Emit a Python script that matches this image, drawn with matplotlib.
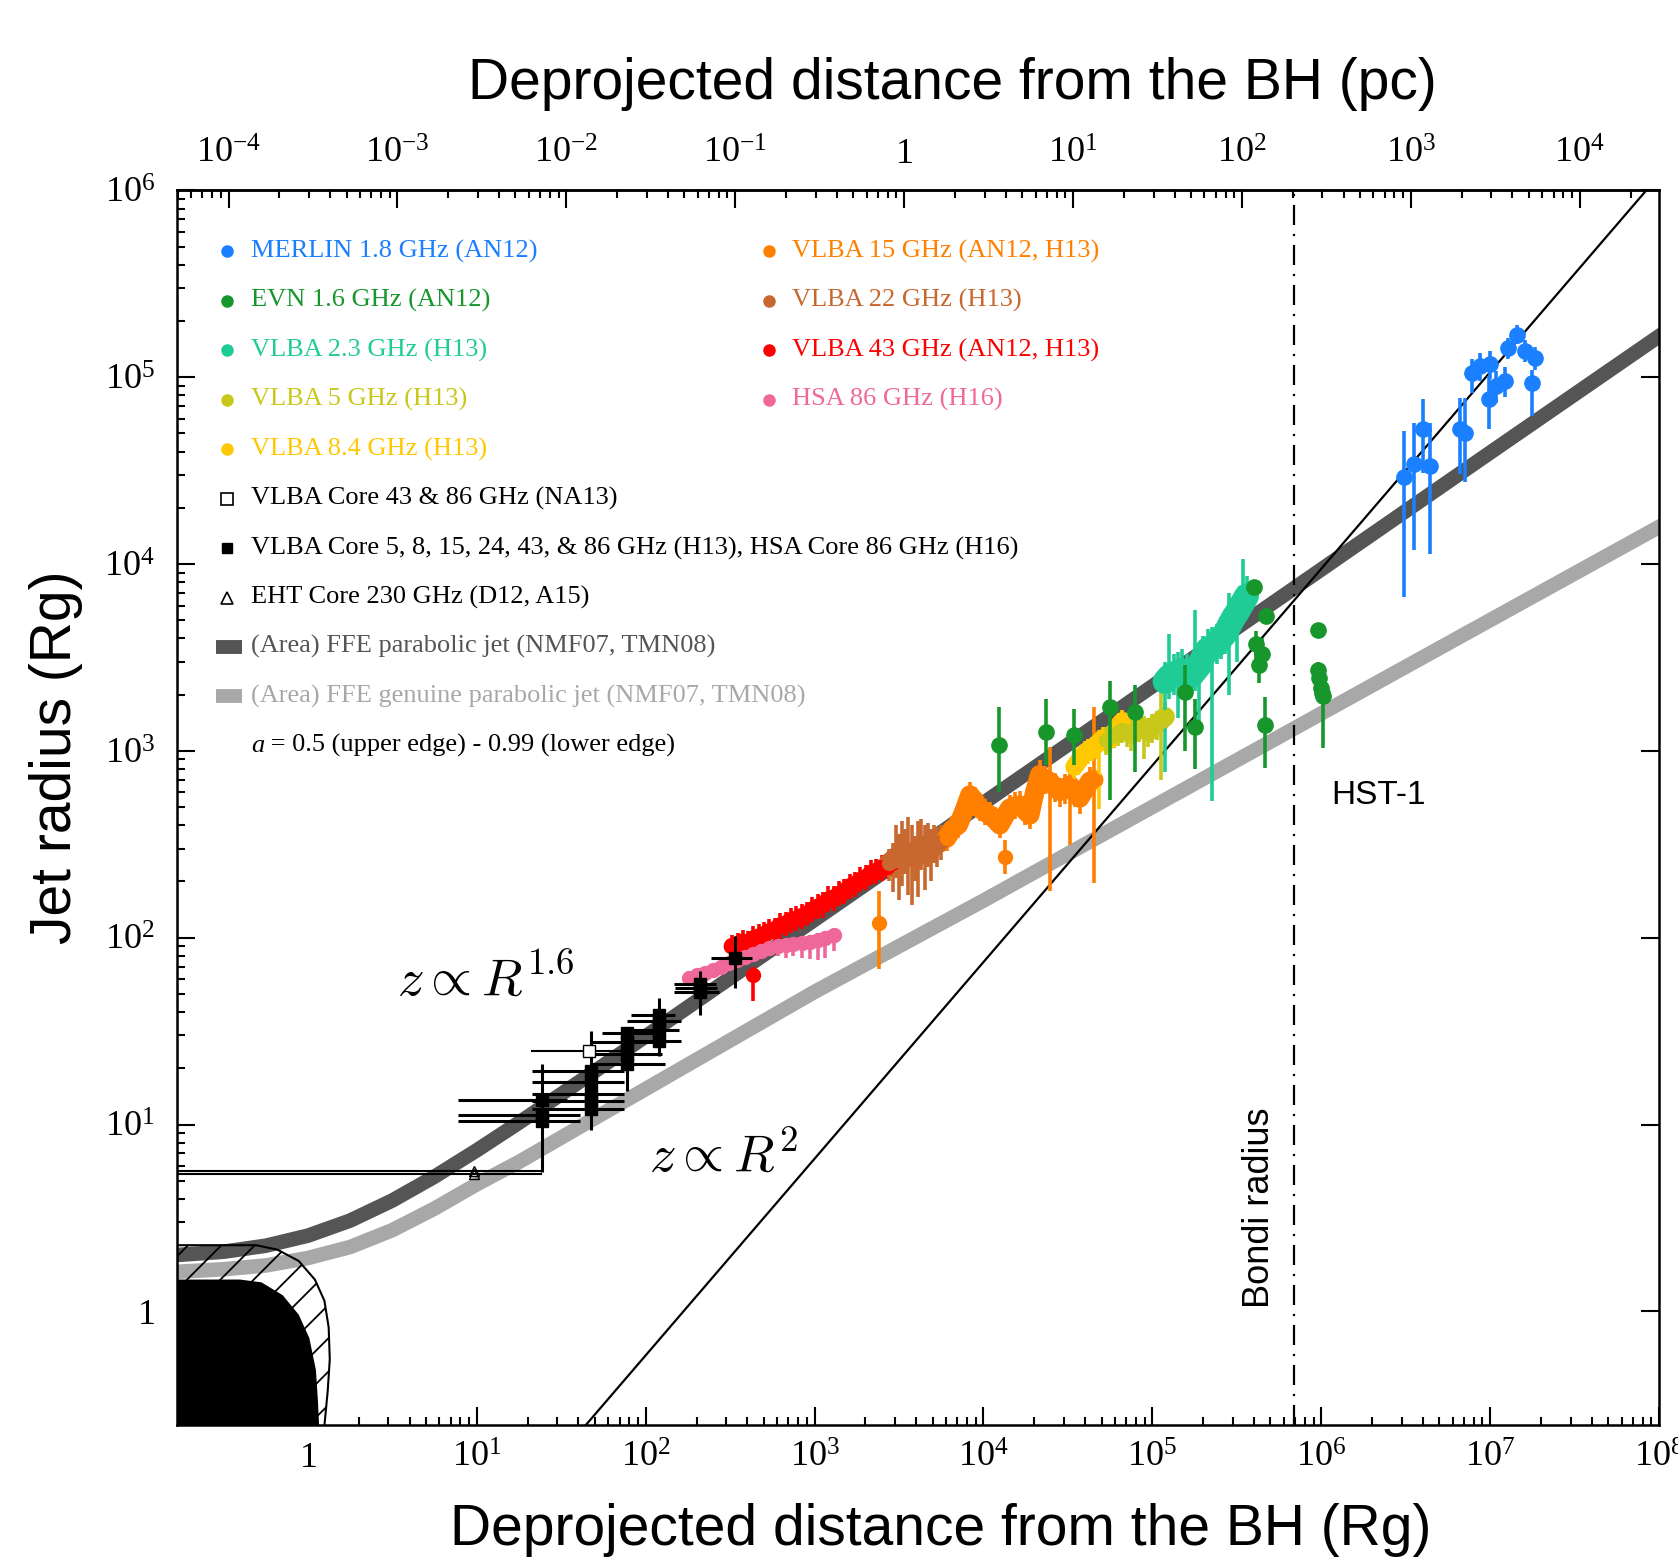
import numpy as np
import matplotlib
matplotlib.use('Agg')
import matplotlib.pyplot as plt
from matplotlib.ticker import LogLocator, FuncFormatter, NullFormatter

plt.rcParams['font.family'] = 'Liberation Serif'
plt.rcParams['mathtext.fontset'] = 'cm'
plt.rcParams['hatch.linewidth'] = 1.3

# --- conversion Rg -> pc (M87) ---
RG_TO_PC = 2.95e-4
BONDI_RG = 6.9e5

# --- BH horizon / ergosphere outlines ---
bh_x = [0.1, 0.396, 0.531, 0.71, 0.883, 1.02, 1.116, 1.148, 1.165, 1.165, 0.1]
bh_y = [1.48, 1.48, 1.43, 1.22, 0.96, 0.72, 0.485, 0.327, 0.245, 0.2, 0.2]
ergo_x = [0.1, 0.493, 0.66, 0.883, 1.10, 1.253, 1.328, 1.348, 1.31, 1.253, 1.253, 0.1]
ergo_y = [2.26, 2.26, 2.14, 1.86, 1.48, 1.14, 0.82, 0.553, 0.373, 0.245, 0.2, 0.2]

# --- FFE models (upper: parabolic, lower: genuine parabolic) ---
band_x = [0.151, 0.316, 0.562, 1.0, 1.78, 3.16, 5.62, 10, 17.8, 31.6, 56.2, 100, 316, 1000,
          1e4, 1e5, 1e6, 1e7, 1.05e8]
ffe_y = [1.99, 2.085, 2.245, 2.542, 3.062, 3.92, 5.26, 7.28, 10.24, 14.54, 20.74, 29.66,
         60.8, 124.8, 526, 2218, 9354, 3.95e4, 1.71e5]
gen_y = [1.62, 1.68, 1.76, 1.93, 2.21, 2.72, 3.55, 4.79, 6.31, 8.51, 11.5, 15.5,
         28.2, 51.3, 158, 501, 1585, 5012, 1.62e4]

# conical reference line
cone_x = [44, 8.4e7]
cone_y = [0.245, 1.0e6]

# --- MERLIN 1.8 GHz ---
x_merlin = [3.07e6, 3.52e6, 3.98e6, 4.42e6, 6.65e6, 7.12e6, 7.8e6, 8.73e6, 1.0e7, 9.78e6,
            1.09e7, 1.23e7, 1.28e7, 1.44e7, 1.61e7, 1.77e7, 1.85e7]
y_merlin = [2.91e4, 3.43e4, 5.27e4, 3.36e4, 5.27e4, 5.06e4, 1.06e5, 1.15e5, 1.17e5, 7.62e4,
            9.0e4, 9.55e4, 1.44e5, 1.69e5, 1.38e5, 9.36e4, 1.27e5]
lo_merlin = [6650, 1.19e4, 3.06e4, 1.13e4, 3.05e4, 2.74e4, 8.27e4, 9.5e4, 9.8e4, 5.27e4,
             7.3e4, 7.8e4, 1.25e5, 1.5e5, 1.2e5, 6.2e4, 1.1e5]
hi_merlin = [5.17e4, 5.72e4, 7.69e4, 5.7e4, 7.7e4, 7.7e4, 1.25e5, 1.35e5, 1.38e5, 1.02e5,
             1.08e5, 1.14e5, 1.62e5, 1.9e5, 1.58e5, 1.1e5, 1.46e5]

# --- EVN 1.6 GHz ---
x_evn = [1.23e4, 2.34e4, 3.42e4, 5.65e4, 7.92e4, 1.57e5, 1.79e5, 4.0e5, 4.74e5, 4.11e5,
         4.3e5, 4.45e5, 4.62e5, 9.6e5, 9.6e5, 9.75e5, 1.0e6, 1.01e6, 1.03e6]
y_evn = [1074, 1264, 1213, 1719, 1617, 2070, 1350, 7530, 5300, 3727,
         2866, 3300, 1378, 4440, 2718, 2450, 2173, 2050, 1955]
lo_evn = [606, 843, 836, 546, 769, 1000, 800, 7000, 4800, 3000,
          2300, 2700, 810, 4100, 2400, 2200, 1900, 1800, 1040]
hi_evn = [1725, 1905, 1679, 2352, 2254, 2866, 1900, 8100, 5800, 4400,
          3400, 4000, 1931, 4800, 3000, 2700, 2500, 2300, 2300]

# --- VLBA 2.3 GHz ---
x_23 = [1.19e5, 1.26e5, 1.34e5, 1.42e5, 1.5e5, 1.6e5, 1.69e5, 1.8e5, 1.9e5, 2.0e5, 2.13e5,
        2.26e5, 2.4e5, 2.55e5, 2.7e5, 2.86e5, 3.03e5, 3.17e5, 3.31e5, 3.46e5, 3.61e5]
y_23 = [2352, 2500, 2578, 2640, 2683, 2600, 2512, 2700, 2866, 3200, 3491,
        3600, 3727, 4000, 4252, 4700, 5180, 5500, 5907, 6300, 6738]
lo_23 = [770, 1900, 2000, 1500, 2100, 2000, 1950, 2100, 1300, 2500, 2700,
         540, 2900, 3100, 3300, 2000, 4000, 3000, 4600, 4900, 5200]
hi_23 = [3000, 4200, 3300, 3400, 3500, 3300, 3200, 5700, 3700, 4100, 4500,
         4600, 4800, 5200, 5500, 7000, 6700, 7100, 7600, 1.07e4, 8600]

# --- VLBA 5 GHz ---
x_5 = [5.34e4, 5.62e4, 5.92e4, 6.25e4, 6.65e4, 7.05e4, 7.47e4, 7.9e4, 8.39e4, 8.9e4,
       9.43e4, 1.0e5, 1.06e5, 1.12e5, 1.19e5]
y_5 = [1141, 1180, 1219, 1260, 1301, 1270, 1234, 1290, 1336, 1300, 1267, 1330, 1389, 1450, 1523]
lo_5 = [950, 1000, 1030, 1060, 1100, 1050, 1000, 1080, 1120, 900, 1050, 1100, 1150, 700, 1300]
hi_5 = [1350, 1400, 1450, 1500, 1540, 1500, 1460, 1520, 1580, 1540, 1500, 1570, 1640, 2600, 1800]

# --- VLBA 8.4 GHz ---
x_84 = [3.45e4, 3.62e4, 3.82e4, 4.0e4, 4.17e4, 4.4e4, 4.62e4, 4.85e4, 5.11e4, 5.35e4,
        5.58e4, 5.85e4, 6.09e4, 6.35e4, 6.65e4]
y_84 = [821, 870, 936, 980, 1000, 1030, 1069, 1120, 1172, 1150, 1141, 1220, 1301, 1380, 1446]
lo_84 = [700, 740, 800, 830, 850, 880, 910, 491, 1000, 980, 970, 1040, 1100, 1170, 1230]
hi_84 = [950, 1000, 1080, 1130, 1160, 1190, 1230, 1290, 1350, 1320, 1310, 1400, 1500, 1590, 1660]

# --- VLBA 15 GHz (ribbon + two isolated points) ---
x_15 = [6050, 6520, 7100, 7700, 8310, 8900, 9510, 1.02e4, 1.09e4, 1.17e4, 1.25e4, 1.34e4,
        1.43e4, 1.53e4, 1.64e4, 1.76e4, 1.88e4, 2.01e4, 2.15e4, 2.3e4, 2.47e4, 2.65e4,
        2.83e4, 3.03e4, 3.24e4, 3.47e4, 3.71e4, 3.98e4, 4.26e4, 4.5e4]
y_15 = [341, 380, 402, 480, 581, 540, 493, 470, 454, 430, 402, 450,
        493, 505, 513, 480, 454, 600, 745, 700, 687, 640,
        607, 630, 658, 600, 559, 620, 687, 700]
lo_15 = [290, 320, 340, 400, 500, 450, 420, 400, 390, 370, 340, 380,
         420, 430, 440, 400, 380, 500, 620, 590, 178, 530,
         500, 520, 314, 500, 460, 520, 580, 197]
hi_15 = [400, 450, 470, 560, 680, 640, 580, 550, 530, 500, 470, 530,
         580, 600, 610, 570, 540, 720, 890, 830, 1054, 760,
         720, 750, 780, 720, 660, 740, 820, 1714]
x_15_iso = [1.34e4, 2403]
y_15_iso = [271, 119.7]
lo_15_iso = [220, 67.7]
hi_15_iso = [333, 178]

# --- VLBA 22 GHz ---
x_22 = [2767, 2900, 3020, 3150, 3297, 3450, 3598, 3760, 3927, 4100, 4286, 4480, 4677,
        4890, 5105, 5330, 5571]
y_22 = [250, 258, 268, 262, 275, 282, 286, 278, 268, 290, 298, 292, 306, 300, 314, 320, 327]
lo_22 = [200, 175, 210, 160, 190, 220, 170, 150, 200, 165, 230, 180, 240, 200, 250, 240, 260]
hi_22 = [300, 320, 400, 360, 420, 380, 440, 400, 350, 420, 430, 400, 410, 380, 400, 390, 400]

# --- VLBA 43 GHz (ribbon + one isolated point) ---
x_43 = [324, 350, 375, 405, 434, 468, 502, 540, 581, 625, 673, 724, 778, 837, 900, 968,
        1042, 1120, 1205, 1296, 1394, 1500, 1614, 1736, 1866, 2008, 2159, 2323, 2500,
        2690, 2891]
y_43 = [90, 92, 95, 93, 99, 101, 104, 108, 110, 116, 118, 124, 126, 130, 133, 141,
        146, 150, 160, 162, 171, 176, 188, 192, 203, 208, 222, 226, 238, 240, 252]
lo_43 = [76, 80, 82, 80, 84, 88, 90, 93, 95, 99, 102, 106, 108, 112, 115, 122,
         126, 128, 138, 139, 147, 151, 162, 165, 175, 179, 191, 195, 200, 205, 215]
hi_43 = [104, 106, 110, 108, 115, 118, 121, 126, 128, 135, 138, 145, 147, 152, 156, 165,
         171, 176, 188, 190, 200, 206, 220, 225, 238, 244, 260, 265, 278, 282, 295]
x_43_iso = [434]
y_43_iso = [63.5]
lo_43_iso = [45.7]
hi_43_iso = [70]

# --- HSA 86 GHz ---
x_86 = [181, 200, 225, 250, 280, 312, 349, 390, 434, 485, 541, 605, 673, 750, 837, 935,
        1042, 1160, 1297]
y_86 = [61, 63, 65, 67, 70, 73, 76, 79, 82, 85, 88, 90, 91, 92, 94, 95, 97, 100, 104]
lo_86 = [56, 58, 60, 62, 64, 67, 70, 72, 75, 77, 80, 80, 78, 80, 78, 77, 76, 78, 85]
hi_86 = [66, 68, 70, 72, 76, 79, 82, 85, 88, 92, 95, 97, 98, 100, 102, 103, 106, 108, 112]

# --- cores (H13, H16) ---
core_x = [24.4, 24.4, 24.4, 47.3, 47.3, 47.3, 47.3, 47.3, 78, 78, 78, 78,
          120, 120, 120, 120, 211, 211, 211, 337]
core_y = [10.5, 11.2, 13.5, 12.1, 13.4, 14.6, 16.8, 19.4, 21.0, 24.0, 27.5, 31.0,
          28.0, 32.0, 36.0, 38.8, 51.5, 54.0, 56.3, 77.4]
core_xlo = [7.7, 7.7, 7.7, 21.3, 21.3, 21.3, 21.3, 21.3, 48, 48, 48, 55,
            78, 80, 78, 82, 147, 150, 147, 243]
core_xhi = [41, 41, 34, 74, 74, 74, 74, 74, 130, 125, 110, 130,
            162, 158, 162, 150, 272, 265, 260, 427]
core_ylo = [5.6, 11.2, 13.5, 12.1, 13.4, 9.3, 16.8, 19.4, 15.2, 24.0, 27.5, 31.0,
            28.0, 23.3, 36.0, 38.8, 51.5, 38.8, 56.3, 53.9]
core_yhi = [21.0, 11.2, 13.5, 12.1, 13.4, 31.7, 16.8, 19.4, 31.7, 24.0, 27.5, 31.0,
            28.0, 47.7, 36.0, 38.8, 51.5, 66.3, 56.3, 101.7]

# NA13 core
na_x = [46.2]
na_y = [24.8]
na_xlo = [21.0]
na_xhi = [74.0]

# EHT cores
eht_x = [9.6, 9.6]
eht_y = [5.66, 5.45]
eht_xlo = [0.1, 0.1]
eht_xhi = [24.4, 24.4]

c_merlin = '#1a80ff'
c_evn = '#17962b'
c_23 = '#1fcc96'
c_5 = '#c8c81a'
c_84 = '#ffc800'
c_15 = '#ff8000'
c_22 = '#c8682f'
c_43 = '#ff0000'
c_86 = '#f0689a'
c_ffe = '#555555'
c_gen = '#a8a8a8'

fig = plt.figure(figsize=(16.78, 15.62), dpi=100)
ax = fig.add_axes([0.1055, 0.0874, 0.8832, 0.7907])
ax.set_xscale('log')
ax.set_yscale('log')
ax.set_xlim(0.168, 1e8)
ax.set_ylim(0.245, 1e6)

# FFE bands
ax.plot(band_x, gen_y, color=c_gen, lw=10.5, solid_capstyle='butt',
        solid_joinstyle='round', zorder=2)
ax.plot(band_x, ffe_y, color=c_ffe, lw=10.5, solid_capstyle='butt',
        solid_joinstyle='round', zorder=2.1)

# BH + ergosphere (hatch drawn over the bands)
ax.fill(ergo_x, ergo_y, facecolor='none', edgecolor='black', hatch='/', lw=1.5, zorder=2.2)
ax.fill(bh_x, bh_y, color='black', lw=0, zorder=2.3)

ax.plot(cone_x, cone_y, color='black', lw=1.6, zorder=2.4)
ax.axvline(BONDI_RG, color='black', lw=1.6, linestyle=(0, (9, 4, 1, 4)), zorder=2.4)


def jet_points(x, y, lo, hi, color, ms=10, z=3):
    x = np.asarray(x, float)
    y = np.asarray(y, float)
    err = [y - np.asarray(lo, float), np.asarray(hi, float) - y]
    ax.errorbar(x, y, yerr=err, fmt='o', ms=ms, color=color, mec=color,
                elinewidth=2.6, capsize=0, zorder=z)


def jet_ribbon(x, y, lo, hi, color, lw, ms=10, z=3):
    ax.plot(x, y, color=color, lw=lw, solid_joinstyle='round',
            solid_capstyle='round', zorder=z)
    jet_points(x, y, lo, hi, color, ms=ms, z=z)


jet_points(x_merlin, y_merlin, lo_merlin, hi_merlin, c_merlin, ms=11)
jet_ribbon(x_43, y_43, lo_43, hi_43, c_43, lw=12)
jet_points(x_43_iso, y_43_iso, lo_43_iso, hi_43_iso, c_43)
jet_ribbon(x_86, y_86, lo_86, hi_86, c_86, lw=8, z=3.1)
jet_ribbon(x_22, y_22, lo_22, hi_22, c_22, lw=15)
jet_ribbon(x_15, y_15, lo_15, hi_15, c_15, lw=14)
jet_points(x_15_iso, y_15_iso, lo_15_iso, hi_15_iso, c_15)
jet_ribbon(x_84, y_84, lo_84, hi_84, c_84, lw=13)
jet_ribbon(x_5, y_5, lo_5, hi_5, c_5, lw=14)
jet_ribbon(x_23, y_23, lo_23, hi_23, c_23, lw=18)
jet_points(x_evn, y_evn, lo_evn, hi_evn, c_evn, ms=11, z=3.2)

cx = np.array(core_x)
cy = np.array(core_y)
ax.errorbar(cx, cy, xerr=[cx - np.array(core_xlo), np.array(core_xhi) - cx],
            yerr=[cy - np.array(core_ylo), np.array(core_yhi) - cy],
            fmt='s', ms=9, color='black', elinewidth=2.2, capsize=0, zorder=4)
nx = np.array(na_x)
ax.errorbar(nx, na_y, xerr=[nx - np.array(na_xlo), np.array(na_xhi) - nx],
            fmt='s', ms=8, mfc='white', mec='black', color='black', elinewidth=1.5,
            capsize=0, zorder=4)
ex = np.array(eht_x)
ax.errorbar(ex, eht_y, xerr=[ex - np.array(eht_xlo), np.array(eht_xhi) - ex],
            fmt='^', ms=7, mfc='none', mec='black', color='black', elinewidth=1.5,
            capsize=0, zorder=4)

# annotations
ax.text(3.38, 59, r'$z \propto R^{1.6}$', fontsize=38, va='center', ha='left', zorder=5)
ax.text(104, 6.74, r'$z \propto R^{2}$', fontsize=38, va='center', ha='left', zorder=5)
ax.text(1.14e6, 575, 'HST-1', family='Liberation Sans', fontsize=24, va='center', ha='left')
ax.text(4.3e5, 3.58, 'Bondi radius', family='Liberation Sans', fontsize=26, rotation=90,
        va='center', ha='center')


def log_fmt(v, pos):
    e = int(round(np.log10(v)))
    if e == 0:
        return r'$\mathdefault{1}$'
    return r'$\mathdefault{10^{%d}}$' % e


for axis in (ax.xaxis, ax.yaxis):
    axis.set_major_locator(LogLocator(base=10, numticks=30))
    axis.set_minor_locator(LogLocator(base=10, subs=np.arange(2, 10), numticks=300))
    axis.set_major_formatter(FuncFormatter(log_fmt))
    axis.set_minor_formatter(NullFormatter())

ax.tick_params(which='both', direction='in', width=1.5, labelsize=26)
ax.tick_params(which='major', length=13)
ax.tick_params(which='minor', length=6)
ax.tick_params(axis='x', top=False, bottom=True, pad=12)
ax.tick_params(axis='y', left=True, right=True, pad=16)
for s in ax.spines.values():
    s.set_linewidth(1.8)

sec = ax.secondary_xaxis('top', functions=(lambda v: np.asarray(v) * RG_TO_PC,
                                           lambda v: np.asarray(v) / RG_TO_PC))
sec.xaxis.set_major_locator(LogLocator(base=10, numticks=30))
sec.xaxis.set_minor_locator(LogLocator(base=10, subs=np.arange(2, 10), numticks=300))
sec.xaxis.set_major_formatter(FuncFormatter(log_fmt))
sec.xaxis.set_minor_formatter(NullFormatter())
sec.tick_params(which='both', direction='in', width=1.5, labelsize=26, pad=14)
sec.tick_params(which='major', length=13)
sec.tick_params(which='minor', length=6)
sec.spines['top'].set_linewidth(1.8)

# axis titles
fig.text(0.5606, 0.0205, 'Deprojected distance from the BH (Rg)', family='Liberation Sans',
         fontsize=41, ha='center', va='center')
fig.text(0.5676, 0.9465, 'Deprojected distance from the BH (pc)', family='Liberation Sans',
         fontsize=41, ha='center', va='center')
fig.text(0.0334, 0.515, 'Jet radius (Rg)', family='Liberation Sans', fontsize=41,
         rotation=90, ha='center', va='center')

# legend (two columns)
leg1_labels = ['MERLIN 1.8 GHz (AN12)', 'EVN 1.6 GHz (AN12)', 'VLBA 2.3 GHz (H13)',
               'VLBA 5 GHz (H13)', 'VLBA 8.4 GHz (H13)', 'VLBA Core 43 & 86 GHz (NA13)',
               'VLBA Core 5, 8, 15, 24, 43, & 86 GHz (H13), HSA Core 86 GHz (H16)',
               'EHT Core 230 GHz (D12, A15)', '(Area) FFE parabolic jet (NMF07, TMN08)',
               '(Area) FFE genuine parabolic jet (NMF07, TMN08)']
leg1_colors = [c_merlin, c_evn, c_23, c_5, c_84, 'black', 'black', 'black', c_ffe, c_gen]
leg1_kinds = ['o', 'o', 'o', 'o', 'o', 'os', 's', 'tri', 'band', 'band']
leg2_labels = ['VLBA 15 GHz (AN12, H13)', 'VLBA 22 GHz (H13)', 'VLBA 43 GHz (AN12, H13)',
               'HSA 86 GHz (H16)']
leg2_colors = [c_15, c_22, c_43, c_86]

row0 = 0.9506
dy = 0.04003
tf = ax.transAxes
for i, (lab, col, kind) in enumerate(zip(leg1_labels, leg1_colors, leg1_kinds)):
    yy = row0 - i * dy
    if kind == 'o':
        ax.plot([0.0339], [yy], 'o', ms=8, color=col, transform=tf, zorder=6)
    elif kind == 'os':
        ax.plot([0.0339], [yy], 's', ms=8, mfc='white', mec='black', mew=1.2,
                transform=tf, zorder=6)
    elif kind == 's':
        ax.plot([0.0339], [yy], 's', ms=7, color='black', transform=tf, zorder=6)
    elif kind == 'tri':
        ax.plot([0.0339], [yy], '^', ms=8, mfc='white', mec='black', mew=1.2,
                transform=tf, zorder=6)
    else:
        ax.plot([0.026, 0.044], [yy, yy], color=col, lw=10, solid_capstyle='butt',
                transform=tf, zorder=6)
    ax.text(0.0498, yy, lab, color=col, fontsize=19, va='center', ha='left', transform=tf)

ya = row0 - 10 * dy
ta = ax.text(0.0498, ya, 'a', style='italic', fontsize=19, va='center', ha='left',
             transform=tf)
ax.annotate(' = 0.5 (upper edge) - 0.99 (lower edge)', xy=(1, 0), xycoords=ta,
            fontsize=19, va='bottom', ha='left')

for i, (lab, col) in enumerate(zip(leg2_labels, leg2_colors)):
    yy = row0 - i * dy
    ax.plot([0.3993], [yy], 'o', ms=8, color=col, transform=tf, zorder=6)
    ax.text(0.4152, yy, lab, color=col, fontsize=19, va='center', ha='left', transform=tf)

fig.savefig('out.png', dpi=100)
